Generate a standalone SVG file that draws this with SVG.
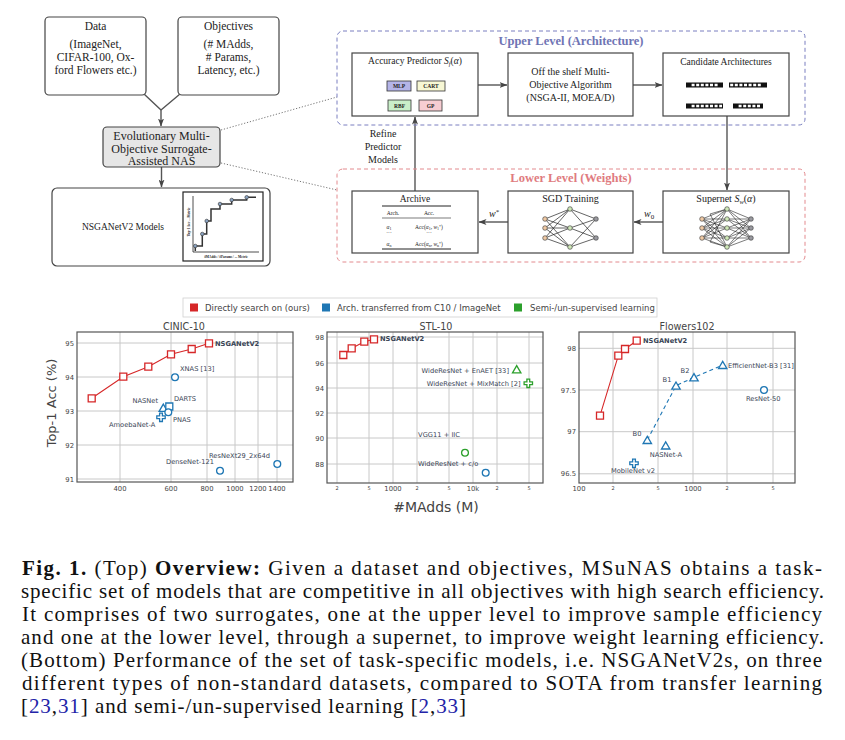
<svg xmlns="http://www.w3.org/2000/svg" width="845" height="740" viewBox="0 0 845 740">
<defs>
<marker id="ah" markerWidth="8" markerHeight="6" refX="7.5" refY="3" orient="auto" markerUnits="userSpaceOnUse"><path d="M0,0 L8,3 L0,6 L2,3 z" fill="#444"/></marker>
<path id="mk-sq" d="M-3.5,-3.5h7v7h-7z"/>
<circle id="mk-ci" r="3.4"/>
<path id="mk-tr" d="M0,-4.2 L4.2,3 L-4.2,3 Z"/>
<path id="mk-pl" d="M-1.4,-4.2h2.8v2.8h2.8v2.8h-2.8v2.8h-2.8v-2.8h-2.8v-2.8h2.8z"/>
<style>
.s{font-family:"Liberation Serif","DejaVu Serif",serif;fill:#222}
.box{fill:#fff;stroke:#444;stroke-width:1.2}
.edge{stroke:#555;stroke-width:1.4;fill:none}
.dot{stroke:#666;stroke-width:0.9;stroke-dasharray:1.2,1.8;fill:none}
.p{font-family:"DejaVu Sans",Verdana,sans-serif}
.tick{font-size:6.8px;fill:#444}
.tsm{font-size:5px;fill:#444}
.ttl{font-size:9.6px;fill:#444}
.grid{stroke:#c8c8c8;stroke-width:1;fill:none}
.frame{fill:none;stroke:#555;stroke-width:1.2}
.ann{font-size:6.7px;fill:#3a4556}
.bold{font-weight:bold}
.red{stroke:#d62728;fill:#fff;stroke-width:1.3}
.blue{stroke:#1f77b4;fill:#fff;stroke-width:1.3}
.green{stroke:#2ca02c;fill:#fff;stroke-width:1.3}
.nin{fill:#efc9a4;stroke:#333;stroke-width:0.6}
.nhd{fill:#cfe8b8;stroke:#333;stroke-width:0.6}
.nout{fill:#9a9aa0;stroke:#333;stroke-width:0.6}
.cap{font-family:"Liberation Serif","DejaVu Serif",serif;font-size:21px;fill:#111}
.ref{fill:#2323a8}
</style>
</defs>
<rect width="845" height="740" fill="#fff"/>

<!-- connectors -->
<g id="connectors">
<path class="edge" d="M144,94 L161,110 M180,94 L161,110"/>
<path class="edge" d="M161,110 V126" marker-end="url(#ah)"/>
<path class="edge" d="M161.5,167 V187" marker-end="url(#ah)"/>
<path class="dot" d="M221,130 L337,97"/>
<path class="dot" d="M221,163 L337,190"/>
<path class="edge" d="M478,85 H507" marker-end="url(#ah)"/>
<path class="edge" d="M633,85 H662" marker-end="url(#ah)"/>
<path class="edge" d="M727,116 V190" marker-end="url(#ah)"/>
<path class="edge" d="M663,222 H634" marker-end="url(#ah)"/>
<path class="edge" d="M508,222 H479" marker-end="url(#ah)"/>
<path class="edge" d="M415,191 V117" marker-end="url(#ah)"/>
<text class="s" font-size="10" text-anchor="middle" x="383" y="137">Refine</text>
<text class="s" font-size="10" text-anchor="middle" x="383" y="150">Predictor</text>
<text class="s" font-size="10" text-anchor="middle" x="383" y="163">Models</text>
<text class="s" font-size="10" x="644" y="217"><tspan font-style="italic">w</tspan><tspan font-size="7" dy="2">0</tspan></text>
<text class="s" font-size="10" x="489" y="217"><tspan font-style="italic">w</tspan><tspan font-size="7" dy="-3">*</tspan></text>
</g>

<!-- top-left nodes -->
<g id="data">
<rect class="box" x="45" y="17" width="101" height="78" rx="4"/>
<g class="s" font-size="11.5" text-anchor="middle">
<text x="95.5" y="30">Data</text>
<text x="95.5" y="48">(ImageNet,</text>
<text x="95.5" y="61">CIFAR-100, Ox-</text>
<text x="95.5" y="74">ford Flowers etc.)</text>
</g>
</g>
<g id="objectives">
<rect class="box" x="178" y="17" width="101" height="78" rx="4"/>
<g class="s" font-size="11.5" text-anchor="middle">
<text x="228.5" y="30">Objectives</text>
<text x="228.5" y="48">(# MAdds,</text>
<text x="228.5" y="61"># Params,</text>
<text x="228.5" y="74">Latency, etc.)</text>
</g>
</g>
<g id="evolutionary">
<rect x="103" y="127" width="117" height="40" rx="4" fill="#e6e6e6" stroke="#444" stroke-width="1.2"/>
<g class="s" font-size="12" text-anchor="middle">
<text x="161.5" y="140">Evolutionary Multi-</text>
<text x="161.5" y="152.5">Objective Surrogate-</text>
<text x="161.5" y="165">Assisted NAS</text>
</g>
</g>
<g id="nsganetv2-models">
<rect class="box" x="52" y="188" width="218" height="78" rx="5"/>
<text class="s" font-size="9.5" text-anchor="middle" x="123" y="230">NSGANetV2 Models</text>
<rect x="183" y="192" width="80" height="69" fill="#fff" stroke="#222" stroke-width="1.2"/>
<path d="M193,196 V252 H259" fill="none" stroke="#222" stroke-width="0.8"/>
<path d="M195.3,251 V246 H202.3 V234 H206.7 V221 H211 V209 H220 V204 H231.7 V200 H246.7 V197.3 H256" fill="none" stroke="#333" stroke-width="1.5"/>
<g fill="#8aa3c2" stroke="#333" stroke-width="0.6">
<circle cx="195.3" cy="246" r="1.8"/><circle cx="202.3" cy="234" r="1.8"/><circle cx="206.7" cy="221" r="1.8"/><circle cx="220" cy="204" r="1.8"/><circle cx="231.7" cy="200" r="1.8"/><circle cx="246.7" cy="197.3" r="1.8"/>
</g>
<text class="s" font-size="3.4" font-weight="bold" text-anchor="middle" transform="translate(190,222) rotate(-90)">Top-1 Acc  ...   Metric</text>
<text class="s" font-size="3.4" font-weight="bold" text-anchor="middle" x="226" y="258">#MAdds / #Params / ... Metric</text>
</g>

<!-- upper level -->
<g id="upper-level">
<rect x="337" y="31" width="468" height="94" rx="6" fill="none" stroke="#7a7fc0" stroke-width="1" stroke-dasharray="4,3"/>
<text class="s" font-size="12.5" font-weight="bold" text-anchor="middle" x="571" y="45" style="fill:#6f74b4">Upper Level (Architecture)</text>
</g>
<g id="accuracy-predictor">
<rect class="box" x="352" y="53" width="126" height="63"/>
<text class="s" font-size="9.5" text-anchor="middle" x="415" y="64">Accuracy Predictor <tspan font-style="italic">S</tspan><tspan font-size="6.5" font-style="italic" dy="1.5">f</tspan><tspan dy="-1.5">(</tspan><tspan font-style="italic">α</tspan>)</text>
<g stroke="#333" stroke-width="0.8">
<rect x="387" y="81" width="24" height="10" fill="#b4b4e8"/>
<rect x="417" y="81" width="28" height="10" fill="#f7f7d4"/>
<rect x="388" y="100" width="23" height="11" fill="#c9efc9"/>
<rect x="419" y="100" width="23" height="11" fill="#f7cdd2"/>
</g>
<g class="s" font-size="5.5" font-weight="bold" text-anchor="middle">
<text x="399" y="88">MLP</text>
<text x="431" y="88">CART</text>
<text x="399.5" y="107.5">RBF</text>
<text x="430.5" y="107.5">GP</text>
</g>
</g>
<g id="moo-algorithm">
<rect class="box" x="508" y="53" width="125" height="63"/>
<g class="s" font-size="10" text-anchor="middle">
<text x="570.5" y="75">Off the shelf Multi-</text>
<text x="570.5" y="88">Objective Algorithm</text>
<text x="570.5" y="101">(NSGA-II, MOEA/D)</text>
</g>
</g>
<g id="candidate-architectures">
<rect class="box" x="663" y="53" width="126" height="63"/>
<text class="s" font-size="9.5" text-anchor="middle" x="726" y="65">Candidate Architectures</text>
<g fill="#111">
<rect x="686" y="82.5" width="37" height="5"/>
<rect x="729" y="82.5" width="38" height="5"/>
<rect x="686" y="103.5" width="37" height="5"/>
<rect x="733" y="103.5" width="30" height="5"/>
</g>
<g stroke="#fff" stroke-width="2.6" fill="none">
<path d="M687.2,85 H722" stroke-dasharray="0,4.4,3,1.6,3,1.6,3,1.6,3,1.6,3,1.6,3,1.6,0,4.6"/>
<path d="M730.2,85 H766" stroke-dasharray="3,1.6,3,1.6,3,1.6,3,1.6,3,1.6,3,1.6,3,1.6,0,4.6"/>
<path d="M687.2,106 H722" stroke-dasharray="0,4.4,3,1.6,3,1.6,3,1.6,3,1.6,3,1.6,3,1.6,3,1.6"/>
<path d="M734.2,106 H762" stroke-dasharray="0,4.4,3,1.6,3,1.6,3,1.6,3,1.6,3,1.6"/>
</g>
</g>

<!-- lower level -->
<g id="lower-level">
<rect x="337" y="169" width="468" height="93" rx="6" fill="none" stroke="#e38a8e" stroke-width="1" stroke-dasharray="4,3"/>
<text class="s" font-size="12.5" font-weight="bold" text-anchor="middle" x="571" y="182" style="fill:#e07b80">Lower Level (Weights)</text>
</g>
<g id="archive">
<rect class="box" x="352" y="191" width="126" height="62"/>
<text class="s" font-size="9.5" text-anchor="middle" x="415" y="202">Archive</text>
<path d="M382,206 H451 M382,249 H451" stroke="#222" stroke-width="1"/>
<path d="M382,218 H451" stroke="#222" stroke-width="0.6"/>
<g class="s" font-size="5.5" text-anchor="middle">
<text x="393" y="215">Arch.</text>
<text x="429" y="215">Acc.</text>
<text x="389" y="228.5"><tspan font-style="italic">α</tspan><tspan font-size="4" dy="1">1</tspan></text>
<text x="429" y="228.5">Acc(<tspan font-style="italic">α</tspan><tspan font-size="4" dy="1">1</tspan><tspan dy="-1">, </tspan><tspan font-style="italic">w</tspan><tspan font-size="4" dy="1">1</tspan><tspan font-size="4" dy="-2">*</tspan><tspan dy="1">)</tspan></text>
<text x="389" y="235">···</text>
<text x="429" y="235">···</text>
<text x="389" y="246"><tspan font-style="italic">α</tspan><tspan font-size="4" dy="1">n</tspan></text>
<text x="429" y="246">Acc(<tspan font-style="italic">α</tspan><tspan font-size="4" dy="1">n</tspan><tspan dy="-1">, </tspan><tspan font-style="italic">w</tspan><tspan font-size="4" dy="1">n</tspan><tspan font-size="4" dy="-2">*</tspan><tspan dy="1">)</tspan></text>
</g>
</g>
<g id="sgd-training">
<rect class="box" x="508" y="191" width="125" height="62"/>
<text class="s" font-size="10" text-anchor="middle" x="570.5" y="202">SGD Training</text>
<path stroke="#222" stroke-width="0.7" fill="none" d="M545,219L570,209M545,219L570,228M545,219L570,247M545,228L570,209M545,228L570,228M545,228L570,247M545,238L570,209M545,238L570,228M545,238L570,247M570,209L596,219M570,209L596,238M570,228L596,219M570,228L596,238M570,247L596,219M570,247L596,238"/>
<circle class="nin" cx="545" cy="219" r="2.3"/><circle class="nin" cx="545" cy="228" r="2.3"/><circle class="nin" cx="545" cy="238" r="2.3"/>
<circle class="nhd" cx="570" cy="209" r="2.3"/><circle class="nhd" cx="570" cy="228" r="2.3"/><circle class="nhd" cx="570" cy="247" r="2.3"/>
<circle class="nout" cx="596" cy="219" r="2.3"/><circle class="nout" cx="596" cy="238" r="2.3"/>
</g>
<g id="supernet">
<rect class="box" x="663" y="191" width="126" height="62"/>
<text class="s" font-size="10" text-anchor="middle" x="726" y="202">Supernet <tspan font-style="italic">S</tspan><tspan font-size="6.5" font-style="italic" dy="1.5">w</tspan><tspan dy="-1.5">(</tspan><tspan font-style="italic">α</tspan>)</text>
<path stroke="#222" stroke-width="0.6" fill="none" d="M702,219L727,209M702,219L727,219M702,219L727,228M702,219L727,238M702,219L727,247M702,228L727,209M702,228L727,219M702,228L727,228M702,228L727,238M702,228L727,247M702,238L727,209M702,238L727,219M702,238L727,228M702,238L727,238M702,238L727,247M710,214L727,209M710,214L727,247M710,242L727,209M710,242L727,247M727,209L751,219M727,209L751,228M727,209L751,238M727,219L751,219M727,219L751,228M727,219L751,238M727,228L751,219M727,228L751,228M727,228L751,238M727,238L751,219M727,238L751,228M727,238L751,238M727,247L751,219M727,247L751,228M727,247L751,238"/>
<circle class="nin" cx="702" cy="219" r="2.3"/><circle class="nin" cx="702" cy="228" r="2.3"/><circle class="nin" cx="702" cy="238" r="2.3"/>
<circle class="nhd" cx="727" cy="209" r="2.3"/><circle class="nhd" cx="727" cy="219" r="2.3"/><circle class="nhd" cx="727" cy="228" r="2.3"/><circle class="nhd" cx="727" cy="238" r="2.3"/><circle class="nhd" cx="727" cy="247" r="2.3"/>
<circle class="nout" cx="751" cy="219" r="2.3"/><circle class="nout" cx="751" cy="228" r="2.3"/><circle class="nout" cx="751" cy="238" r="2.3"/>
</g>

<!-- legend -->
<g id="legend" class="p">
<rect x="183" y="298" width="474" height="19" fill="#fff" stroke="#d0d0d0" stroke-width="0.8"/>
<rect x="190" y="303.5" width="8" height="8" fill="#d62728"/>
<text x="205" y="310.5" font-size="8.5" fill="#444">Directly search on (ours)</text>
<rect x="322" y="303.5" width="8" height="8" fill="#1f77b4"/>
<text x="337" y="310.5" font-size="8.5" fill="#444">Arch. transferred from C10 / ImageNet</text>
<rect x="514" y="303.5" width="8" height="8" fill="#2ca02c"/>
<text x="530" y="310.5" font-size="8.5" fill="#444">Semi-/un-supervised learning</text>
</g>

<!-- CINIC-10 -->
<g id="plot-cinic10" class="p">
<text class="ttl" x="184" y="329.5" text-anchor="middle">CINIC-10</text>
<path class="grid" d="M77,343H293M77,377H293M77,411H293M77,445H293M77,479H293M120,332V482M171,332V482M207,332V482M235,332V482M258,332V482M277,332V482"/>
<rect class="frame" x="77" y="332" width="216" height="150"/>
<g class="tick" text-anchor="end">
<text x="74" y="345.5">95</text><text x="74" y="379.5">94</text><text x="74" y="413.5">93</text><text x="74" y="447.5">92</text><text x="74" y="481.5">91</text>
</g>
<g class="tick" text-anchor="middle">
<text x="120" y="490.5">400</text><text x="171" y="490.5">600</text><text x="207" y="490.5">800</text><text x="235" y="490.5">1000</text><text x="258" y="490.5">1200</text><text x="277" y="490.5">1400</text>
</g>
<path d="M91.7,398.3 L123.3,376.7 L148.3,366.7 L171,354.3 L191.7,349 L209,343.3" fill="none" stroke="#d62728" stroke-width="1.1"/>
<use href="#mk-sq" class="red" x="91.7" y="398.3"/><use href="#mk-sq" class="red" x="123.3" y="376.7"/><use href="#mk-sq" class="red" x="148.3" y="366.7"/><use href="#mk-sq" class="red" x="171" y="354.3"/><use href="#mk-sq" class="red" x="191.7" y="349"/><use href="#mk-sq" class="red" x="209" y="343.3"/>
<use href="#mk-ci" class="blue" x="175" y="377.3"/>
<use href="#mk-tr" class="blue" x="163.3" y="408.3"/>
<use href="#mk-sq" class="blue" x="169.3" y="406.5"/>
<use href="#mk-ci" class="blue" x="168.3" y="412.3"/>
<use href="#mk-pl" class="blue" x="161" y="417.3"/>
<use href="#mk-ci" class="blue" x="220" y="470.7"/>
<use href="#mk-ci" class="blue" x="277.3" y="464"/>
<g class="ann">
<text x="215" y="345.8" class="bold">NSGANetV2</text>
<text x="180" y="371">XNAS [13]</text>
<text x="158" y="403" text-anchor="end">NASNet</text>
<text x="174" y="401">DARTS</text>
<text x="173" y="421.5">PNAS</text>
<text x="109" y="426.5">AmoebaNet-A</text>
<text x="166" y="464">DenseNet-121</text>
<text x="209" y="458">ResNeXt29_2x64d</text>
</g>
<text transform="translate(55.5,403) rotate(-90)" text-anchor="middle" font-size="13" fill="#444">Top-1 Acc (%)</text>
</g>

<!-- STL-10 -->
<g id="plot-stl10" class="p">
<text class="ttl" x="436" y="329.5" text-anchor="middle">STL-10</text>
<path class="grid" d="M327,337H543M327,363H543M327,388H543M327,413H543M327,438H543M327,464H543M337,332V483M369,332V483M393,332V483M417,332V483M449,332V483M473,332V483M497,332V483M529,332V483"/>
<rect class="frame" x="327" y="332" width="216" height="151"/>
<g class="tick" text-anchor="end">
<text x="324" y="339.5">98</text><text x="324" y="365.5">96</text><text x="324" y="390.5">94</text><text x="324" y="415.5">92</text><text x="324" y="440.5">90</text><text x="324" y="466.5">88</text>
</g>
<g text-anchor="middle">
<text class="tsm" x="337" y="489.5">2</text><text class="tsm" x="369" y="489.5">5</text><text class="tick" x="393" y="490.5">1000</text><text class="tsm" x="417" y="489.5">2</text><text class="tsm" x="449" y="489.5">5</text><text class="tick" x="473" y="490.5">10k</text><text class="tsm" x="497" y="489.5">2</text><text class="tsm" x="529" y="489.5">5</text>
</g>
<path d="M343.3,355 L351.7,348.3 L364.3,341.7 L374,339.3" fill="none" stroke="#d62728" stroke-width="1.1"/>
<use href="#mk-sq" class="red" x="343.3" y="355"/><use href="#mk-sq" class="red" x="351.7" y="348.3"/><use href="#mk-sq" class="red" x="364.3" y="341.7"/><use href="#mk-sq" class="red" x="374" y="339.3"/>
<use href="#mk-tr" class="green" x="516.7" y="369.8"/>
<use href="#mk-pl" class="green" x="528.3" y="383.3"/>
<use href="#mk-ci" class="green" x="465" y="452.7"/>
<use href="#mk-ci" class="blue" x="485.7" y="472.7"/>
<g class="ann">
<text x="380" y="341" class="bold">NSGANetV2</text>
<text x="509" y="372.5" text-anchor="end">WideResNet + EnAET [33]</text>
<text x="520.5" y="385.5" text-anchor="end">WideResNet + MixMatch [2]</text>
<text x="460" y="436.5" text-anchor="end">VGG11 + IIC</text>
<text x="418" y="466">WideResNet + c/o</text>
</g>
<text x="436" y="512" text-anchor="middle" font-size="14" fill="#444">#MAdds (M)</text>
</g>

<!-- Flowers102 -->
<g id="plot-flowers102" class="p">
<text class="ttl" x="687" y="329.5" text-anchor="middle">Flowers102</text>
<path class="grid" d="M579,348.3H795M579,390H795M579,431.7H795M579,473.8H795M613,332V483M658,332V483M693,332V483M727,332V483M773,332V483"/>
<rect class="frame" x="579" y="332" width="216" height="151"/>
<g class="tick" text-anchor="end">
<text x="576" y="350.8">98</text><text x="576" y="392.5">97.5</text><text x="576" y="434.2">97</text><text x="576" y="476.3">96.5</text>
</g>
<g text-anchor="middle">
<text class="tick" x="579" y="490.5">100</text><text class="tsm" x="613" y="489.5">2</text><text class="tsm" x="658" y="489.5">5</text><text class="tick" x="693" y="490.5">1000</text><text class="tsm" x="727" y="489.5">2</text><text class="tsm" x="773" y="489.5">5</text>
</g>
<path d="M600,415.7 L618.3,355.7 L625,349 L636.7,340.7" fill="none" stroke="#d62728" stroke-width="1.1"/>
<path d="M647.3,440 L676,385.7 L694,377.3 L722.7,365" fill="none" stroke="#1f77b4" stroke-width="1.1" stroke-dasharray="4,3"/>
<use href="#mk-sq" class="red" x="600" y="415.7"/><use href="#mk-sq" class="red" x="618.3" y="355.7"/><use href="#mk-sq" class="red" x="625" y="349"/><use href="#mk-sq" class="red" x="636.7" y="340.7"/>
<use href="#mk-tr" class="blue" x="647.3" y="440.5"/><use href="#mk-tr" class="blue" x="676" y="386.2"/><use href="#mk-tr" class="blue" x="694" y="377.8"/><use href="#mk-tr" class="blue" x="722.7" y="365.5"/>
<use href="#mk-tr" class="blue" x="665.7" y="446"/>
<use href="#mk-pl" class="blue" x="634" y="463.3"/>
<use href="#mk-ci" class="blue" x="764" y="390"/>
<g class="ann">
<text x="643" y="343.2" class="bold">NSGANetV2</text>
<text x="637" y="435.5" text-anchor="middle">B0</text>
<text x="667" y="381.5" text-anchor="middle">B1</text>
<text x="685" y="372.5" text-anchor="middle">B2</text>
<text x="728" y="367.5">EfficientNet-B3 [31]</text>
<text x="666" y="456.5" text-anchor="middle">NASNet-A</text>
<text x="633" y="473" text-anchor="middle">MobileNet v2</text>
<text x="763.3" y="400.5" text-anchor="middle">ResNet-50</text>
</g>
</g>

<!-- caption -->
<g id="caption" class="cap">
<text x="22" y="575" textLength="800" lengthAdjust="spacing"><tspan font-weight="bold">Fig. 1.</tspan> (Top) <tspan font-weight="bold">Overview:</tspan> Given a dataset and objectives, MSuNAS obtains a task-</text>
<text x="21" y="598" textLength="803" lengthAdjust="spacing">specific set of models that are competitive in all objectives with high search efficiency.</text>
<text x="22" y="621" textLength="800" lengthAdjust="spacing">It comprises of two surrogates, one at the upper level to improve sample efficiency</text>
<text x="21" y="644" textLength="803" lengthAdjust="spacing">and one at the lower level, through a supernet, to improve weight learning efficiency.</text>
<text x="21" y="667" textLength="801" lengthAdjust="spacing">(Bottom) Performance of the set of task-specific models, i.e. NSGANetV2s, on three</text>
<text x="22" y="690" textLength="800" lengthAdjust="spacing">different types of non-standard datasets, compared to SOTA from transfer learning</text>
<text x="21" y="713" textLength="445" lengthAdjust="spacing">[<tspan class="ref">23</tspan>,<tspan class="ref">31</tspan>] and semi-/un-supervised learning [<tspan class="ref">2</tspan>,<tspan class="ref">33</tspan>]</text>
</g>
</svg>
